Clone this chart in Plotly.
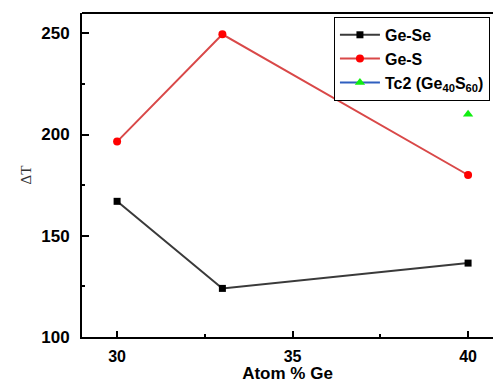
import plotly.graph_objects as go

# Ge content (atom %) and the measured thermal stability ΔT
ge_se_x = [30, 33, 40]
ge_se_y = [167, 124, 136.5]

ge_s_x = [30, 33, 40]
ge_s_y = [196.5, 249.5, 180]

tc2_x = [40]
tc2_y = [210]

x_ticks = [30, 35, 40]
y_ticks = [100, 150, 200, 250]

fig = go.Figure()

fig.add_trace(go.Scatter(
    x=ge_se_x, y=ge_se_y, mode="lines+markers", name="Ge-Se",
    line=dict(color="#3a3a3a", width=2),
    marker=dict(symbol="square", size=7, color="black"),
))
fig.add_trace(go.Scatter(
    x=ge_s_x, y=ge_s_y, mode="lines+markers", name="Ge-S",
    line=dict(color="#d94848", width=2),
    marker=dict(symbol="circle", size=8, color="#ff0000"),
))
fig.add_trace(go.Scatter(
    x=tc2_x, y=tc2_y, mode="lines+markers",
    name="Tc2 (Ge<sub>40</sub>S<sub>60</sub>)",
    line=dict(color="#2f5fbf", width=2),
    marker=dict(symbol="triangle-up", size=9, color="#11ee11"),
))

sans = "Liberation Sans, Arial, sans-serif"
tick_font = dict(family=sans, size=16, color="black", weight="bold")

fig.update_layout(
    width=493, height=383,
    margin=dict(l=82, r=0, t=13, b=46, autoexpand=False),
    paper_bgcolor="white", plot_bgcolor="white",
    showlegend=True,
    legend=dict(
        x=0.613, y=0.988, xanchor="left", yanchor="top",
        bordercolor="black", borderwidth=1, bgcolor="white",
        font=dict(family=sans, size=16, color="black", weight="bold"),
        tracegroupgap=0, itemwidth=40,
    ),
    xaxis=dict(
        range=[29, 40.71], tickvals=x_ticks, ticktext=[str(v) for v in x_ticks],
        ticks="inside", ticklen=6, tickwidth=2, tickcolor="black",
        showline=True, linecolor="black", linewidth=2, mirror=False,
        showgrid=False, zeroline=False, ticklabelstandoff=4,
        tickfont=tick_font,
        minor=dict(ticks="inside", ticklen=3, tickwidth=2, tickcolor="black",
                   dtick=2.5, tick0=30, showgrid=False),
        title=dict(text="Atom % Ge", standoff=5,
                   font=dict(family=sans, size=17, color="black", weight="bold")),
    ),
    yaxis=dict(
        range=[100, 260], tickvals=y_ticks, ticktext=[str(v) for v in y_ticks],
        ticks="inside", ticklen=7, tickwidth=2, tickcolor="black",
        showline=True, linecolor="black", linewidth=2, mirror=False,
        showgrid=False, zeroline=False, ticklabelstandoff=7,
        tickfont=dict(tick_font, size=17),
        minor=dict(ticks="inside", ticklen=3, tickwidth=2, tickcolor="black",
                   dtick=25, tick0=100, showgrid=False),
        title=dict(text="ΔT", standoff=6,
                   font=dict(family="Liberation Serif, Times New Roman, serif",
                             size=15, color="#333333")),
    ),
    # top edge of the frame; the right side stays open
    shapes=[dict(type="line", xref="paper", yref="paper", x0=0, x1=1, y0=1, y1=1,
                 line=dict(color="black", width=2))],
)

fig.write_html("out.html", config={"displayModeBar": False})
